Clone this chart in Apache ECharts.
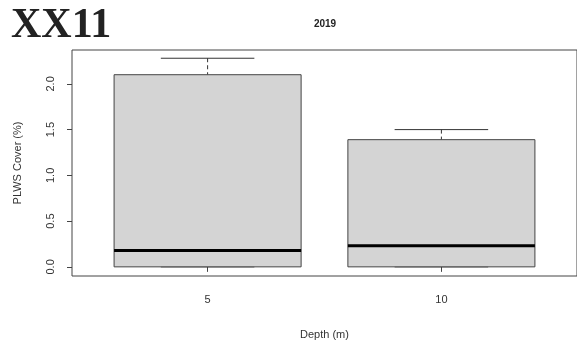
<!DOCTYPE html>
<html>
<head>
<meta charset="utf-8">
<script src="https://cdn.jsdelivr.net/npm/echarts@6/dist/echarts.min.js"></script>
<style>
html,body{margin:0;padding:0;background:#fff;}
#chart{width:577px;height:345px;}
</style>
</head>
<body>
<div id="chart"></div>
<script>
// Data
var depthLabels = ['5', '10'];
var depthPositions = [1, 2];
var whiskerLow = [0, 0];
var q1 = [0, 0];
var median = [0.18, 0.23];
var q3 = [2.1, 1.39];
var whiskerHigh = [2.28, 1.5];
var yTicks = [0, 0.5, 1, 1.5, 2];

var boxData = depthPositions.map(function (p, i) {
  return [p, q1[i], median[i], q3[i], whiskerHigh[i], whiskerLow[i]];
});

var chart = echarts.init(document.getElementById('chart'));
var FONT = '"Liberation Sans", Arial, sans-serif';
var TXT = '#333';

chart.setOption({
  animation: false,
  backgroundColor: '#fff',
  title: [
    {text: 'XX11', left: 6, top: 0,
     textStyle: {fontFamily: '"Liberation Serif", "Times New Roman", serif', fontWeight: 'bold', fontSize: 42, color: '#222'}},
    {text: '2019', left: 320, top: 14, textAlign: 'center',
     textStyle: {fontFamily: FONT, fontWeight: 'bold', fontSize: 10, color: '#222'}}
  ],
  grid: {left: 72, right: -1, top: 50, bottom: 69, show: true, borderColor: '#444', borderWidth: 1, backgroundColor: 'transparent'},
  xAxis: {
    type: 'value', min: 0.42, max: 2.58,
    name: 'Depth (m)', nameLocation: 'middle', nameGap: 53,
    nameTextStyle: {fontFamily: FONT, fontSize: 11, color: TXT},
    axisLine: {show: false},
    splitLine: {show: false},
    axisTick: {show: true, length: 5, customValues: depthPositions, lineStyle: {color: '#444'}},
    axisLabel: {customValues: depthPositions, margin: 18, fontFamily: FONT, fontSize: 11, color: TXT,
      formatter: function (v) { return depthLabels[depthPositions.indexOf(v)]; }}
  },
  yAxis: {
    type: 'value', min: -0.1, max: 2.37,
    name: 'PLWS Cover (%)', nameLocation: 'middle', nameGap: 49, nameRotate: 90,
    nameTextStyle: {fontFamily: FONT, fontSize: 11, color: TXT},
    axisLine: {show: false},
    splitLine: {show: false},
    axisTick: {show: true, length: 5, customValues: yTicks, lineStyle: {color: '#444'}},
    axisLabel: {customValues: yTicks, rotate: 90, margin: 16, fontFamily: FONT, fontSize: 11, color: TXT,
      formatter: function (v) { return v.toFixed(1); }}
  },
  series: [{
    type: 'custom',
    data: boxData,
    renderItem: function (params, api) {
      var x = api.value(0);
      var bw = 0.4, sw = 0.2;
      var pQ1L = api.coord([x - bw, api.value(1)]);
      var pQ3R = api.coord([x + bw, api.value(3)]);
      var pMedL = api.coord([x - bw, api.value(2)]);
      var pMedR = api.coord([x + bw, api.value(2)]);
      var pC = api.coord([x, api.value(3)]);
      var pHi = api.coord([x, api.value(4)]);
      var pHiL = api.coord([x - sw, api.value(4)]);
      var pHiR = api.coord([x + sw, api.value(4)]);
      var pLoL = api.coord([x - sw, api.value(5)]);
      var pLoR = api.coord([x + sw, api.value(5)]);
      return {
        type: 'group',
        children: [
          {type: 'line', shape: {x1: pC[0], y1: pHi[1], x2: pC[0], y2: pC[1]},
           style: {stroke: '#333', lineWidth: 1, lineDash: [4, 3]}},
          {type: 'line', shape: {x1: pHiL[0], y1: pHiL[1], x2: pHiR[0], y2: pHiR[1]},
           style: {stroke: '#333', lineWidth: 1}},
          {type: 'line', shape: {x1: pLoL[0], y1: pLoL[1], x2: pLoR[0], y2: pLoR[1]},
           style: {stroke: '#333', lineWidth: 1}},
          {type: 'rect', shape: {x: pQ1L[0], y: pQ3R[1], width: pQ3R[0] - pQ1L[0], height: pQ1L[1] - pQ3R[1]},
           style: {fill: '#d4d4d4', stroke: '#444', lineWidth: 1}},
          {type: 'line', shape: {x1: pMedL[0], y1: pMedL[1], x2: pMedR[0], y2: pMedR[1]},
           style: {stroke: '#000', lineWidth: 3}}
        ]
      };
    }
  }]
});
</script>
</body>
</html>
